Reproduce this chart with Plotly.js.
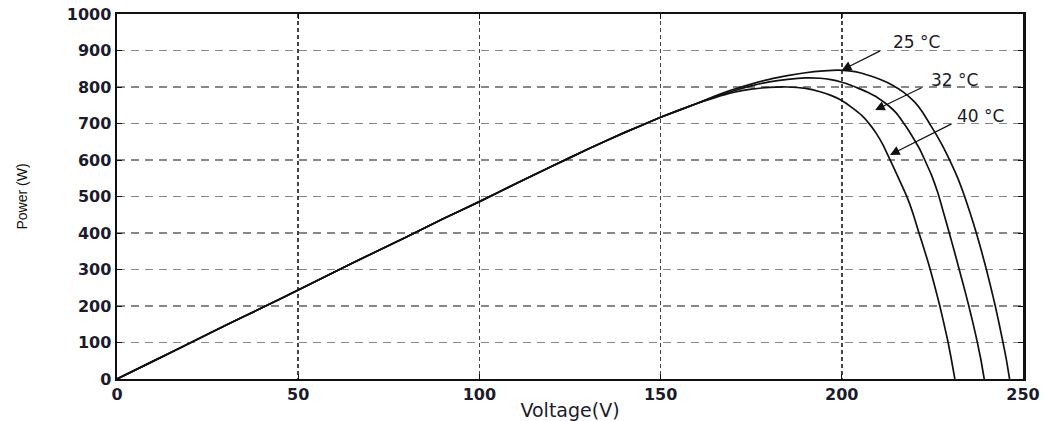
<!DOCTYPE html>
<html>
<head>
<meta charset="utf-8">
<script src="https://cdn.plot.ly/plotly-3.0.1.min.js"></script>
<style>html,body{margin:0;padding:0;background:#fff;}#chart{width:1048px;height:421px;}</style>
</head>
<body>
<div id="chart"></div>
<script>
// Shared rising part (curves overlap here)
const riseV = [0, 10, 20, 30, 40, 50, 60, 70, 80, 90, 100, 110, 120, 130, 140, 150, 160];
const riseP = [0, 49, 98, 147, 195, 244, 293, 342, 390, 439, 486, 535, 583, 630, 675, 717, 755];

// 25 °C branch
const v25 = [165, 170, 175, 180, 185, 190, 195, 199, 202, 205, 208, 211, 214, 217, 220, 222.3, 224.2, 226, 228, 229.7, 231.8, 233.9, 235.5, 237.1, 238.5, 239.9, 241.1, 242.3, 243.4, 244.4, 245.4, 246.3];
const p25 = [775, 793, 808, 821, 831, 839, 844, 846, 844, 839, 830, 819, 805, 786, 760, 731, 700, 671, 635, 601, 555, 500, 452, 401, 352, 300, 252, 202, 152, 104, 54, 0];

// 32 °C branch
const v32 = [165, 170, 175, 180, 185, 190, 194, 197, 200, 202.5, 204.5, 207, 210, 213, 215, 216.8, 218.5, 220.2, 221.6, 222.9, 224.7, 226.5, 228.1, 229.6, 231, 232.4, 233.7, 235, 236.2, 237.3, 238.4, 239.3];
const p32 = [773, 789, 803, 814, 821, 825, 824, 820, 813, 805, 797, 786, 770, 748, 729, 705, 680, 652, 628, 600, 560, 510, 455, 402, 352, 300, 252, 202, 153, 105, 52, 0];

// 40 °C branch
const v40 = [165, 170, 175, 180, 185, 190, 194, 197, 200, 203, 205.5, 207.6, 209.5, 211.4, 213.2, 215.5, 217.9, 219.6, 221.3, 222.9, 224.4, 225.7, 227, 228.2, 229.3, 230.3, 231.2];
const p40 = [771, 785, 794, 799, 800, 796, 787, 777, 763, 742, 722, 699, 673, 641, 603, 554, 501, 455, 400, 350, 300, 252, 202, 151, 102, 50, 0];

const labels = ['25 °C', '32 °C', '40 °C'];
const xTicks = [0, 50, 100, 150, 200, 250];
const yTicks = [0, 100, 200, 300, 400, 500, 600, 700, 800, 900, 1000];

function mk(v, p, name) {
  return {
    x: riseV.concat(v), y: riseP.concat(p), name: name,
    type: 'scatter', mode: 'lines',
    line: {color: '#111', width: 1.7, shape: 'spline', smoothing: 0.4},
    hoverinfo: 'skip'
  };
}
const data = [mk(v25, p25, labels[0]), mk(v32, p32, labels[1]), mk(v40, p40, labels[2])];

const tickFont = {family: 'DejaVu Sans, Arial, sans-serif', size: 16, color: '#1b1b2b', weight: 'bold'};
const annFont = {family: 'DejaVu Sans, Arial, sans-serif', size: 17, color: '#1b1b2b'};
const arrowDefs = [
  // [tipV, tipP, tailV, tailP, textV, textP]
  [200.0, 846, 211.0, 901, 220.5, 923],
  [209.2, 737, 222.4, 800, 231.2, 819],
  [213.3, 614, 230.7, 701, 238.4, 720]
];
const annotations = [];
arrowDefs.forEach((a, i) => {
  annotations.push({x: a[0], y: a[1], ax: a[2], ay: a[3], axref: 'x', ayref: 'y', xref: 'x', yref: 'y',
    text: '', showarrow: true, arrowhead: 2, arrowsize: 1.6, arrowwidth: 1.2, arrowcolor: '#111', standoff: 0, startstandoff: 0});
  annotations.push({x: a[4], y: a[5], xref: 'x', yref: 'y', text: labels[i], showarrow: false,
    font: annFont, xanchor: 'center', yanchor: 'middle'});
});

const layout = {
  width: 1048, height: 421,
  margin: {l: 117, r: 25, t: 14, b: 42},
  paper_bgcolor: '#fff', plot_bgcolor: '#fff',
  showlegend: false,
  xaxis: {
    range: [0, 250], tickvals: xTicks, ticktext: xTicks.map(String),
    showline: true, linecolor: '#111', linewidth: 2, mirror: 'ticks',
    ticks: 'inside', ticklen: 5, tickcolor: '#111',
    showgrid: true, gridcolor: '#444', gridwidth: 1.5, griddash: '4px,3px',
    zeroline: false, tickfont: tickFont,
    title: {text: 'Voltage(V)', font: {family: 'DejaVu Sans, Arial, sans-serif', size: 19, color: '#1b1b2b'}, standoff: 3}
  },
  yaxis: {
    range: [0, 1000], tickvals: yTicks, ticktext: yTicks.map(String),
    showline: true, linecolor: '#111', linewidth: 2.5, mirror: 'ticks',
    ticks: 'inside', ticklen: 5, tickcolor: '#111',
    showgrid: true, gridcolor: '#888', gridwidth: 1.5, griddash: '8px,6px',
    zeroline: false, tickfont: tickFont,
    title: {text: 'Power (W)', font: {family: 'Liberation Sans, Arial, sans-serif', size: 14, color: '#111'}, standoff: 36}
  },
  annotations: annotations
};

Plotly.newPlot('chart', data, layout, {displayModeBar: false, staticPlot: true});
</script>
</body>
</html>
